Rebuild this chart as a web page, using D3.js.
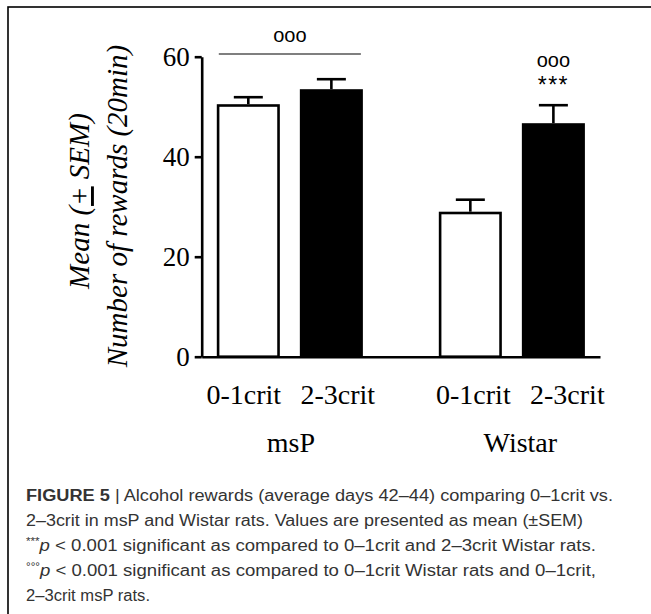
<!DOCTYPE html>
<html>
<head>
<meta charset="utf-8">
<script src="https://cdn.jsdelivr.net/npm/d3@7"></script>
<style>
  html, body { margin: 0; padding: 0; background: #fff; }
  svg { display: block; }
</style>
</head>
<body>
<svg id="chart" width="651" height="614"></svg>
<script>
// ---- data ----
const groups = ["msP", "Wistar"];
const series = ["0-1crit", "2-3crit"];
const meansMsP = [50.5, 53.5];
const meansWistar = [29.0, 46.7];
const semMsP = [1.4, 2.0];
const semWistar = [2.4, 3.6];
const yTicks = [0, 20, 40, 60];
const captionLines = [
  "Alcohol rewards (average days 42–44) comparing 0–1crit vs.",
  "2–3crit in msP and Wistar rats. Values are presented as mean (±SEM)",
  "p < 0.001 significant as compared to 0–1crit and 2–3crit Wistar rats.",
  "p < 0.001 significant as compared to 0–1crit Wistar rats and 0–1crit,",
  "2–3crit msP rats."
];

const rows = [];
groups.forEach((g, gi) => {
  const m = gi === 0 ? meansMsP : meansWistar;
  const s = gi === 0 ? semMsP : semWistar;
  series.forEach((k, ki) => rows.push({ group: g, series: k, mean: m[ki], sem: s[ki] }));
});

const svg = d3.select("#chart");
const serif = "'Liberation Serif', 'Times New Roman', serif";
const sans = "'Liberation Sans', Arial, sans-serif";

// frame
svg.append("rect").attr("x", 8).attr("y", 7).attr("width", 700).attr("height", 700)
  .attr("fill", "none").attr("stroke", "#000").attr("stroke-width", 1.6);

// scales
const y = d3.scaleLinear().domain([0, 60]).range([356.7, 56.7]);
const x0 = d3.scaleBand().domain(groups).range([201.7, 600]).paddingInner(0.342).paddingOuter(0.068);
const x1 = d3.scaleBand().domain(series).range([0, x0.bandwidth()]).paddingInner(0.241);
const fill = d3.scaleOrdinal().domain(series).range(["#fff", "#000"]);

const sw = 2.6;

// bars
const bars = svg.append("g");
bars.selectAll("rect").data(rows).join("rect")
  .attr("x", d => x0(d.group) + x1(d.series) + sw / 2)
  .attr("width", x1.bandwidth() - sw)
  .attr("y", d => y(d.mean) + sw / 2)
  .attr("height", d => y(0) - y(d.mean) - sw / 2)
  .attr("fill", d => fill(d.series))
  .attr("stroke", "#000").attr("stroke-width", sw);

// error bars
const eb = svg.append("g").attr("stroke", "#000").attr("stroke-width", sw);
rows.forEach(d => {
  const cx = x0(d.group) + x1(d.series) + x1.bandwidth() / 2;
  eb.append("line").attr("x1", cx).attr("x2", cx).attr("y1", y(d.mean)).attr("y2", y(d.mean + d.sem));
  eb.append("line").attr("x1", cx - 14.5).attr("x2", cx + 14.5).attr("y1", y(d.mean + d.sem)).attr("y2", y(d.mean + d.sem));
});

// y axis
const yAxis = svg.append("g").attr("transform", `translate(${x0.range()[0]},0)`)
  .call(d3.axisLeft(y).tickValues(yTicks).tickSize(7).tickSizeOuter(0).tickPadding(5).tickFormat(d3.format("d")));
yAxis.select(".domain").attr("stroke-width", sw);
yAxis.selectAll(".tick line").attr("stroke-width", sw);
yAxis.selectAll(".tick text").attr("font-family", serif).attr("font-size", 27).attr("fill", "#000");

// x axis baseline
const xAxis = svg.append("g").attr("transform", `translate(0,${y(0)})`)
  .call(d3.axisBottom(x0).tickSize(0).tickFormat(""));
xAxis.select(".domain").attr("stroke-width", sw);

// category labels
const labelShift = { msP: 1, Wistar: 8.5 };
const sub = svg.append("g").attr("font-family", serif).attr("font-size", 28).attr("fill", "#000").attr("text-anchor", "middle");
groups.forEach(g => {
  const c = x0(g) + x0.bandwidth() / 2 + labelShift[g];
  series.forEach((k, ki) => {
    sub.append("text").attr("x", c + (ki === 0 ? -47 : 47)).attr("y", 404).text(k);
  });
  sub.append("text").attr("x", c).attr("y", 451.7).text(g);
});

// y label
const yl = svg.append("g").attr("font-family", serif).attr("font-size", 29).attr("font-style", "italic")
  .attr("fill", "#000").attr("text-anchor", "middle");
const ymid = 201;
const t1 = yl.append("text").attr("transform", `translate(89,${ymid}) rotate(-90)`);
t1.append("tspan").text("Mean (");
t1.append("tspan").attr("text-decoration", "underline").text("+");
t1.append("tspan").text(" SEM)");
yl.append("text").attr("transform", `translate(127,${ymid + 5}) rotate(-90)`).text("Number of rewards (20min)");

// significance annotations
const ann = svg.append("g").attr("font-family", sans).attr("fill", "#000").attr("text-anchor", "middle");
const lx1 = x0("msP") + x1("0-1crit") + 2;
const lx2 = x0("msP") + x1("2-3crit") + x1.bandwidth() - 2;
svg.append("line").attr("x1", lx1).attr("x2", lx2).attr("y1", 54).attr("y2", 54)
  .attr("stroke", "#000").attr("stroke-width", 1.1);
ann.append("text").attr("x", (lx1 + lx2) / 2).attr("y", 42).attr("font-size", 20).text("ooo");
const wx = x0("Wistar") + x1("2-3crit") + x1.bandwidth() / 2;
ann.append("text").attr("x", wx).attr("y", 66.5).attr("font-size", 20).text("ooo");
ann.append("text").attr("x", wx).attr("y", 93).attr("font-size", 23).attr("letter-spacing", 1.5).text("***");

// caption
const cap = svg.append("g").attr("font-family", sans).attr("font-size", 16).attr("fill", "#333");
const capLens = [587, 557, 570, 570, 124];
captionLines.forEach((line, i) => {
  const t = cap.append("text").attr("x", 26).attr("y", 500.7 + i * 25);
  if (i === 0) {
    t.append("tspan").attr("font-weight", "bold").text("FIGURE 5");
    t.append("tspan").text(" | " + line);
  } else if (i === 2 || i === 3) {
    t.append("tspan").attr("font-size", 10).attr("dy", -6).text(i === 2 ? "***" : "°°°");
    t.append("tspan").attr("dy", 6).attr("font-style", "italic").text("p");
    t.append("tspan").text(line.slice(1));
  } else {
    t.text(line);
  }
  t.attr("textLength", capLens[i]).attr("lengthAdjust", "spacingAndGlyphs");
});
</script>
</body>
</html>
